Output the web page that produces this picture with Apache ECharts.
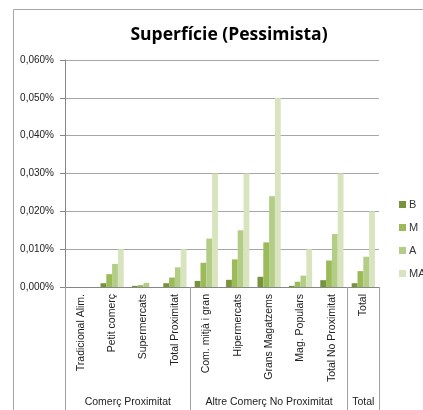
<!DOCTYPE html>
<html>
<head>
<meta charset="utf-8">
<script src="https://cdn.jsdelivr.net/npm/echarts@6/dist/echarts.min.js"></script>
<style>
  html, body { margin: 0; padding: 0; background: #fff; }
  #chart { width: 423px; height: 410px; }
</style>
</head>
<body>
<div id="chart"></div>
<script>
// Retail categories on the x axis, grouped under three headings
const categories = [
  'Tradicional Alim.', 'Petit comerç', 'Supermercats', 'Total Proximitat',
  'Com. mitjà i gran', 'Hipermercats', 'Grans Magatzems', 'Mag. Populars',
  'Total No Proximitat', 'Total'
];
const groupNames = ['Comerç Proximitat', 'Altre Comerç No Proximitat', 'Total'];
const groupBounds = [0, 4, 9, 10];   // category index where each group starts / ends

// Surface share (%) per scenario
const seriesNames = ['B', 'M', 'A', 'MA'];
const valuesB  = [0, 0.0010, 0.0003, 0.0010, 0.0016, 0.0019, 0.0027, 0.0003, 0.0018, 0.0010];
const valuesM  = [0, 0.0034, 0.0005, 0.0025, 0.0064, 0.0073, 0.0118, 0.0014, 0.0070, 0.0042];
const valuesA  = [0, 0.0061, 0.0011, 0.0052, 0.0128, 0.0150, 0.0240, 0.0030, 0.0140, 0.0080];
const valuesMA = [0, 0.0100, 0,      0.0100, 0.0300, 0.0300, 0.0500, 0.0100, 0.0300, 0.0200];

const yTicks = { min: 0, max: 0.06, interval: 0.01 };
const colors = ['#77933C', '#9BBB59', '#B3CD86', '#D7E4BD'];

const font = 'Liberation Sans, Arial, sans-serif';
const chart = echarts.init(document.getElementById('chart'));

const seriesData = [valuesB, valuesM, valuesA, valuesMA];

// group label sits at the middle of its span
const groupMids = groupNames.map((_, i) => (groupBounds[i] + groupBounds[i + 1]) / 2);

chart.setOption({
  animation: false,
  color: colors,
  title: {
    text: 'Superfície (Pessimista)',
    left: 224,
    textAlign: 'center',
    top: 21,
    textStyle: { fontFamily: 'Open Sans, sans-serif', fontWeight: 'bold', fontSize: 17.5, color: '#000' }
  },
  graphic: [{
    type: 'rect',
    shape: { x: 13.5, y: 9.5, width: 420, height: 410 },
    style: { fill: 'none', stroke: '#a6a6a6', lineWidth: 1 },
    silent: true
  }],
  legend: {
    orient: 'vertical',
    left: 394,
    top: 194,
    itemWidth: 7,
    itemHeight: 7,
    itemGap: 12,
    icon: 'rect',
    textStyle: { fontFamily: font, fontSize: 11, color: '#333', padding: [0, 0, 0, -2] },
    data: seriesNames
  },
  grid: { left: 65, right: 44, top: 60, bottom: 123 },
  xAxis: [
    {
      type: 'category',
      data: categories,
      boundaryGap: true,
      axisLine: { lineStyle: { color: '#868686' } },
      axisTick: { interval: 0, length: 99, lineStyle: { color: '#a0a0a0' } },
      axisLabel: {
        interval: 0,
        rotate: 90,
        margin: 7,
        fontFamily: font,
        fontSize: 10.5,
        color: '#222'
      }
    },
    {
      type: 'value',
      min: groupBounds[0],
      max: groupBounds[groupBounds.length - 1],
      position: 'bottom',
      splitLine: { show: false },
      axisLine: { show: false },
      axisTick: {
        show: true,
        length: 124,
        customValues: groupBounds,
        lineStyle: { color: '#a0a0a0' }
      },
      axisLabel: {
        customValues: groupMids,
        formatter: v => groupNames[groupMids.indexOf(v)],
        margin: 110,
        fontFamily: font,
        fontSize: 10.5,
        color: '#222'
      }
    }
  ],
  yAxis: {
    type: 'value',
    min: yTicks.min,
    max: yTicks.max,
    interval: yTicks.interval,
    axisLine: { show: true, lineStyle: { color: '#868686' } },
    axisTick: { show: true, length: 5, lineStyle: { color: '#868686' } },
    splitLine: { lineStyle: { color: '#a6a6a6' } },
    axisLabel: {
      margin: 11,
      fontFamily: font,
      fontSize: 10,
      color: '#222',
      formatter: v => v.toFixed(3).replace('.', ',') + '%'
    }
  },
  series: seriesNames.map((name, i) => ({
    name,
    type: 'bar',
    xAxisIndex: 0,
    data: seriesData[i],
    barGap: '0%',
    barCategoryGap: '26%',
    itemStyle: { color: colors[i] }
  }))
});
</script>
</body>
</html>
